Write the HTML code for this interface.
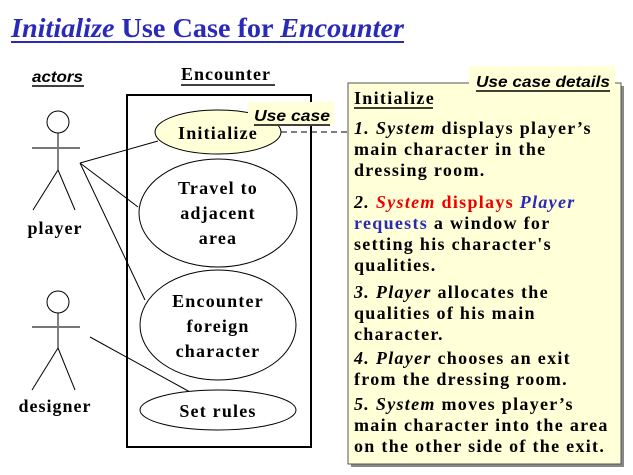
<!DOCTYPE html>
<html><head><style>
body{margin:0;background:#fff;width:633px;height:475px;overflow:hidden}
svg{display:block}
.s{font-family:"Liberation Serif",serif;font-weight:bold}
.a{font-family:"Liberation Sans",sans-serif;font-weight:bold;font-style:italic}
</style></head><body>
<svg width="633" height="475" viewBox="0 0 633 475">
<text x="11" y="37" class="s" font-size="27" fill="#2a2ab8" textLength="393" lengthAdjust="spacingAndGlyphs"><tspan font-style="italic">Initialize</tspan> Use Case for <tspan font-style="italic">Encounter</tspan></text>
<line x1="11" y1="42" x2="404" y2="42" stroke="#2a2ab8" stroke-width="2"/>
<text x="32" y="82" class="a" font-size="16" fill="#000" textLength="51" lengthAdjust="spacingAndGlyphs">actors</text>
<line x1="32" y1="86" x2="84" y2="86" stroke="#000" stroke-width="1.5"/>
<text x="181" y="80" class="s" font-size="18" letter-spacing="1">Encounter</text>
<line x1="181" y1="85" x2="275" y2="85" stroke="#000" stroke-width="1.5"/>
<rect x="127" y="95" width="184" height="352" fill="#fff" stroke="#000" stroke-width="2"/>
<g stroke="#000" fill="none" stroke-width="1">
<circle cx="58" cy="122" r="11"/>
<line x1="58" y1="133" x2="58" y2="170"/>
<line x1="32" y1="148" x2="80" y2="148" stroke="#777" stroke-width="2"/>
<line x1="58" y1="170" x2="33" y2="210"/>
<line x1="58" y1="170" x2="75" y2="210"/>
<circle cx="58" cy="302" r="11"/>
<line x1="58" y1="313" x2="58" y2="348"/>
<line x1="32" y1="327" x2="80" y2="327" stroke="#777" stroke-width="2"/>
<line x1="58" y1="348" x2="32" y2="390"/>
<line x1="58" y1="348" x2="75" y2="390"/>
<line x1="80" y1="163" x2="158" y2="141"/>
<line x1="80" y1="163" x2="138" y2="207"/>
<line x1="80" y1="163" x2="145" y2="300"/>
<line x1="90" y1="337" x2="190" y2="392"/>
</g>
<text x="55" y="234" class="s" font-size="18" letter-spacing="1" text-anchor="middle">player</text>
<text x="55" y="412" class="s" font-size="18" letter-spacing="1" text-anchor="middle">designer</text>
<ellipse cx="218" cy="132" rx="63" ry="22" fill="#ffffd8" stroke="#000"/>
<ellipse cx="218" cy="213" rx="79" ry="54" fill="#fff" stroke="#000"/>
<ellipse cx="218" cy="325" rx="78" ry="55" fill="#fff" stroke="#000"/>
<ellipse cx="218" cy="410" rx="78" ry="20" fill="#fff" stroke="#000"/>
<g class="s" font-size="18" letter-spacing="1.2" text-anchor="middle">
<text x="218" y="139">Initialize</text>
<text x="218" y="194">Travel to</text>
<text x="218" y="219">adjacent</text>
<text x="218" y="244">area</text>
<text x="218" y="307">Encounter</text>
<text x="218" y="332">foreign</text>
<text x="218" y="357">character</text>
<text x="218" y="417">Set rules</text>
</g>
<line x1="281" y1="132" x2="348" y2="132" stroke="#000" stroke-dasharray="6,4"/>
<rect x="248" y="102" width="86" height="24" fill="#ffffd8"/>
<text x="254" y="121" class="a" font-size="16" textLength="76" lengthAdjust="spacingAndGlyphs">Use case</text>
<line x1="254" y1="125" x2="330" y2="125" stroke="#000" stroke-width="1.5"/>
<rect x="351" y="86" width="273" height="381" fill="#888"/>
<rect x="348" y="83" width="273" height="381" fill="#ffffd8" stroke="#555"/>
<rect x="469" y="66" width="146" height="28" fill="#ffffd8"/>
<text x="476" y="87" class="a" font-size="16" textLength="134" lengthAdjust="spacingAndGlyphs">Use case details</text>
<line x1="476" y1="91" x2="610" y2="91" stroke="#000" stroke-width="1.5"/>
<g class="s" font-size="18" letter-spacing="1.3">
<text x="354" y="104">Initialize</text>
<line x1="354" y1="108" x2="433" y2="108" stroke="#000" stroke-width="1.5"/>
<text x="354" y="134"><tspan font-style="italic">1. System</tspan> displays player’s</text>
<text x="354" y="155">main character in the</text>
<text x="354" y="176">dressing room.</text>
<text x="354" y="208"><tspan font-style="italic">2.</tspan> <tspan fill="#e00" font-style="italic">System</tspan> <tspan fill="#e00">displays</tspan> <tspan fill="#2a2ab8" font-style="italic">Player</tspan></text>
<text x="354" y="229"><tspan fill="#2a2ab8">requests</tspan> a window for</text>
<text x="354" y="250">setting his character's</text>
<text x="354" y="271">qualities.</text>
<text x="354" y="298"><tspan font-style="italic">3. Player</tspan> allocates the</text>
<text x="354" y="319">qualities of his main</text>
<text x="354" y="340">character.</text>
<text x="354" y="364"><tspan font-style="italic">4. Player</tspan> chooses an exit</text>
<text x="354" y="385">from the dressing room.</text>
<text x="354" y="410"><tspan font-style="italic">5. System</tspan> moves player’s</text>
<text x="354" y="431">main character into the area</text>
<text x="354" y="452">on the other side of the exit.</text>
</g>
</svg>
</body></html>
